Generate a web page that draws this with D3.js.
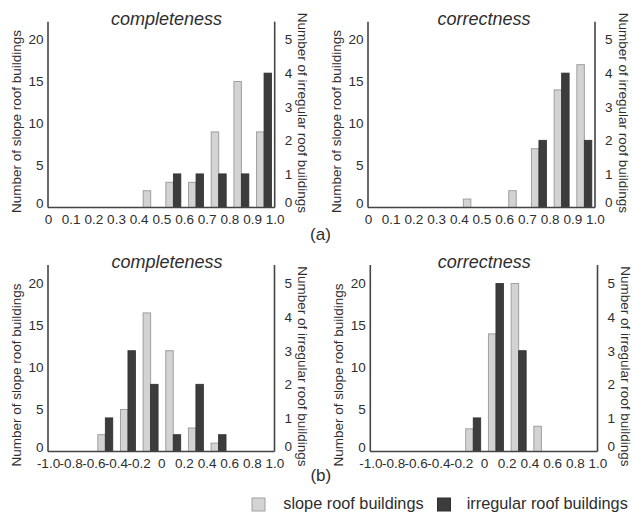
<!DOCTYPE html>
<html><head><meta charset="utf-8">
<script src="https://cdn.jsdelivr.net/npm/d3@7"></script>
<style>
body{margin:0;background:#fff}
svg{display:block}
text{font-family:"Liberation Sans",Arial,Helvetica,sans-serif;fill:#2e2e2e}
</style>
</head><body>
<svg id="chart" width="632" height="512"></svg>
<script>
// ---------- data ----------
const binStartsA = [0, 0.1, 0.2, 0.3, 0.4, 0.5, 0.6, 0.7, 0.8, 0.9];
const binStartsB = [-1.0, -0.8, -0.6, -0.4, -0.2, 0, 0.2, 0.4, 0.6, 0.8];
const xTicksA = [0, 0.1, 0.2, 0.3, 0.4, 0.5, 0.6, 0.7, 0.8, 0.9, 1.0];
const xTickLabelsA = ["0", "0.1", "0.2", "0.3", "0.4", "0.5", "0.6", "0.7", "0.8", "0.9", "1.0"];
const xTicksB = [-1.0, -0.8, -0.6, -0.4, -0.2, 0, 0.2, 0.4, 0.6, 0.8, 1.0];
const xTickLabelsB = ["-1.0", "-0.8", "-0.6", "-0.4", "-0.2", "0", "0.2", "0.4", "0.6", "0.8", "1.0"];
const slopeTicks = [0, 5, 10, 15, 20];
const irregularTicks = [0, 1, 2, 3, 4, 5];

const aCompletenessSlope     = [0, 0, 0, 0, 2, 3, 3, 9, 15, 9];
const aCompletenessIrregular = [0, 0, 0, 0, 0, 1, 1, 1, 1, 4];
const aCorrectnessSlope      = [0, 0, 0, 0, 1, 0, 2, 7, 14, 17];
const aCorrectnessIrregular  = [0, 0, 0, 0, 0, 0, 0, 2, 4, 2];
const bCompletenessSlope     = [0, 0, 2, 5, 16.5, 12, 2.8, 1, 0, 0];
const bCompletenessIrregular = [0, 0, 1, 3, 2, 0.5, 2, 0.5, 0, 0];
const bCorrectnessSlope      = [0, 0, 0, 0, 2.7, 14, 20, 3, 0, 0];
const bCorrectnessIrregular  = [0, 0, 0, 0, 1, 5, 3, 0, 0, 0];

const panelTitles = ["completeness", "correctness", "completeness", "correctness"];
const leftAxisTitle = "Number of slope roof buildings";
const rightAxisTitle = "Number of irregular roof buildings";
const seriesNames = ["slope roof buildings", "irregular roof buildings"];
const subLabels = ["(a)", "(b)"];

// ---------- drawing ----------
const svg = d3.select("#chart");
const FONT = '"Liberation Sans",Arial,Helvetica,sans-serif';
const slopeFill = "#d3d3d3", slopeStroke = "#9f9f9f";
const irrFill = "#3c3c3c", irrStroke = "#2f2f2f";
const axisColor = "#444";

function drawPanel(cfg) {
  const g = svg.append("g");
  const x = d3.scaleLinear().domain(cfg.domain).range([cfg.x0, cfg.x1]);
  const yS = d3.scaleLinear().domain([0, 20]).range([cfg.base, cfg.base - 168]);
  const yI = d3.scaleLinear().domain([0, 5]).range([cfg.base, cfg.base - 168]);

  // bars
  cfg.bins.forEach((b, i) => {
    const xs = x(b), bw = x(b + cfg.binW) - x(b);
    if (cfg.slope[i] > 0) {
      g.append("rect")
        .attr("x", xs + 0.2 * bw).attr("width", 0.33 * bw)
        .attr("y", yS(cfg.slope[i])).attr("height", yS(0) - yS(cfg.slope[i]))
        .attr("fill", slopeFill).attr("stroke", slopeStroke).attr("stroke-width", 1);
    }
    if (cfg.irr[i] > 0) {
      g.append("rect")
        .attr("x", xs + 0.53 * bw).attr("width", 0.33 * bw)
        .attr("y", yI(cfg.irr[i])).attr("height", yI(0) - yI(cfg.irr[i]))
        .attr("fill", irrFill).attr("stroke", irrStroke).attr("stroke-width", 0.8);
    }
  });

  // axes (labels only)
  const la = g.append("g").attr("transform", `translate(${cfg.x0},0)`)
    .call(d3.axisLeft(yS).tickValues(slopeTicks).tickFormat(d3.format("d")).tickSize(0).tickPadding(4.5));
  const ra = g.append("g").attr("transform", `translate(${cfg.x1},0)`)
    .call(d3.axisRight(yI).tickValues(irregularTicks).tickFormat(d3.format("d")).tickSize(0).tickPadding(10));
  const ba = g.append("g").attr("transform", `translate(0,${cfg.base})`)
    .call(d3.axisBottom(x).tickValues(cfg.ticks).tickFormat((d, i) => cfg.tickLabels[i]).tickSize(0).tickPadding(6.5));
  [la, ra, ba].forEach(a => {
    a.select(".domain").remove();
    a.attr("font-size", 13.5).attr("font-family", FONT);
    a.selectAll("text").attr("fill", "#2e2e2e");
  });
  la.selectAll(".tick").filter(d => d === 0).select("text").attr("y", -4.5);
  ra.selectAll(".tick").filter(d => d === 0).select("text").attr("y", -5);

  // axis lines
  const lines = [[cfg.x0, cfg.top, cfg.x0, cfg.base], [cfg.x1, cfg.top, cfg.x1, cfg.base], [cfg.x0, cfg.base, cfg.x1, cfg.base]];
  lines.forEach(l => g.append("line")
    .attr("x1", l[0]).attr("y1", l[1]).attr("x2", l[2]).attr("y2", l[3])
    .attr("stroke", axisColor).attr("stroke-width", 1.6));

  // titles
  g.append("text").attr("x", cfg.titleX).attr("y", cfg.titleY)
    .attr("text-anchor", "middle").attr("font-size", 18).attr("font-style", "italic")
    .text(cfg.title);
  g.append("text")
    .attr("transform", `translate(${cfg.x0 - 27.5},${cfg.axisTitleBottom}) rotate(-90)`)
    .attr("text-anchor", "start").attr("font-size", 13.5).text(leftAxisTitle);
  g.append("text")
    .attr("transform", `translate(${cfg.x1 + 23.5},${cfg.axisTitleBottom}) rotate(90)`)
    .attr("text-anchor", "end").attr("font-size", 13.5).text(rightAxisTitle);
}

const panels = [
  {x0: 48, x1: 274.7, base: 207.5, top: 21.7, titleX: 166.5, titleY: 24.5, axisTitleBottom: 213,
   domain: [0, 1], binW: 0.1, bins: binStartsA, ticks: xTicksA, tickLabels: xTickLabelsA,
   slope: aCompletenessSlope, irr: aCompletenessIrregular, title: panelTitles[0]},
  {x0: 368, x1: 595, base: 207.5, top: 21.7, titleX: 484, titleY: 24.5, axisTitleBottom: 213,
   domain: [0, 1], binW: 0.1, bins: binStartsA, ticks: xTicksA, tickLabels: xTickLabelsA,
   slope: aCorrectnessSlope, irr: aCorrectnessIrregular, title: panelTitles[1]},
  {x0: 48, x1: 274.5, base: 451.5, top: 265, titleX: 167, titleY: 267.5, axisTitleBottom: 466.5,
   domain: [-1, 1], binW: 0.2, bins: binStartsB, ticks: xTicksB, tickLabels: xTickLabelsB,
   slope: bCompletenessSlope, irr: bCompletenessIrregular, title: panelTitles[2]},
  {x0: 370.3, x1: 597.5, base: 451.5, top: 265, titleX: 484.3, titleY: 267.5, axisTitleBottom: 466.5,
   domain: [-1, 1], binW: 0.2, bins: binStartsB, ticks: xTicksB, tickLabels: xTickLabelsB,
   slope: bCorrectnessSlope, irr: bCorrectnessIrregular, title: panelTitles[3]}
];
panels.forEach(drawPanel);

// sub labels
svg.append("text").attr("x", 320.5).attr("y", 239.5).attr("text-anchor", "middle").attr("font-size", 17).text(subLabels[0]);
svg.append("text").attr("x", 320.8).attr("y", 480.5).attr("text-anchor", "middle").attr("font-size", 17).text(subLabels[1]);

// legend
const legend = svg.append("g");
const legendItems = [
  {sx: 252, tx: 283.3, fill: slopeFill, stroke: slopeStroke, name: seriesNames[0]},
  {sx: 437.5, tx: 466.7, fill: irrFill, stroke: irrStroke, name: seriesNames[1]}
];
legendItems.forEach(it => {
  legend.append("rect").attr("x", it.sx).attr("y", 498).attr("width", 13).attr("height", 13)
    .attr("fill", it.fill).attr("stroke", it.stroke).attr("stroke-width", 1);
  legend.append("text").attr("x", it.tx).attr("y", 509).attr("font-size", 16.3).text(it.name);
});
</script>
</body></html>
